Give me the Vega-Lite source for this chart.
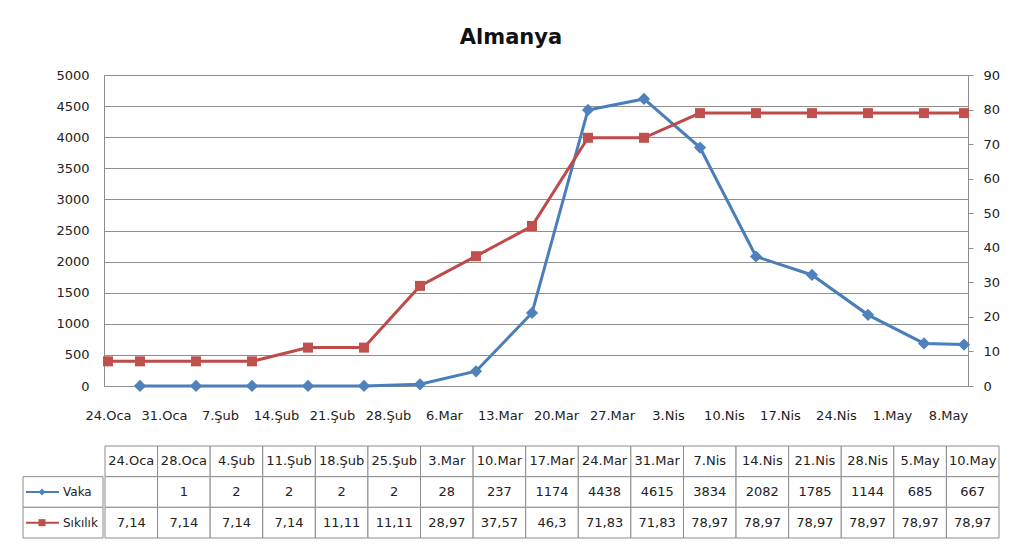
{
  "$schema": "https://vega.github.io/schema/vega-lite/v6.json",
  "padding": {"left": 22, "top": 27, "right": 5, "bottom": 5},
  "background": "white",
  "title": {"text": "Almanya", "font": "DejaVu Sans", "fontSize": 21, "fontWeight": "bold", "color": "#111111", "anchor": "middle", "offset": 21},
  "datasets": {
    "d": [
      {"date": "2020-01-24", "label": "24.Oca", "vaka": null, "siklik": 7.14},
      {"date": "2020-01-28", "label": "28.Oca", "vaka": 1, "siklik": 7.14},
      {"date": "2020-02-04", "label": "4.Şub", "vaka": 2, "siklik": 7.14},
      {"date": "2020-02-11", "label": "11.Şub", "vaka": 2, "siklik": 7.14},
      {"date": "2020-02-18", "label": "18.Şub", "vaka": 2, "siklik": 11.11},
      {"date": "2020-02-25", "label": "25.Şub", "vaka": 2, "siklik": 11.11},
      {"date": "2020-03-03", "label": "3.Mar", "vaka": 28, "siklik": 28.97},
      {"date": "2020-03-10", "label": "10.Mar", "vaka": 237, "siklik": 37.57},
      {"date": "2020-03-17", "label": "17.Mar", "vaka": 1174, "siklik": 46.3},
      {"date": "2020-03-24", "label": "24.Mar", "vaka": 4438, "siklik": 71.83},
      {"date": "2020-03-31", "label": "31.Mar", "vaka": 4615, "siklik": 71.83},
      {"date": "2020-04-07", "label": "7.Nis", "vaka": 3834, "siklik": 78.97},
      {"date": "2020-04-14", "label": "14.Nis", "vaka": 2082, "siklik": 78.97},
      {"date": "2020-04-21", "label": "21.Nis", "vaka": 1785, "siklik": 78.97},
      {"date": "2020-04-28", "label": "28.Nis", "vaka": 1144, "siklik": 78.97},
      {"date": "2020-05-05", "label": "5.May", "vaka": 685, "siklik": 78.97},
      {"date": "2020-05-10", "label": "10.May", "vaka": 667, "siklik": 78.97}
    ],
    "s": [
      {"key": "vaka", "name": "Vaka"},
      {"key": "siklik", "name": "Sıkılık"}
    ]
  },
  "vconcat": [
    {
      "spacing": 0,
      "hconcat": [
        {
          "width": 31,
          "height": 311,
          "data": {"values": []},
          "mark": "point"
        },
        {
          "width": 864,
          "height": 311,
          "data": {"name": "d"},
          "encoding": {
            "x": {
              "field": "date", "type": "temporal",
              "scale": {"type": "utc", "domain": [
                {"year": 2020, "month": 1, "date": 23, "hours": 12, "utc": true},
                {"year": 2020, "month": 5, "date": 10, "hours": 12, "utc": true}
              ]},
              "axis": {
                "title": null,
                "values": [
                  {"year": 2020, "month": 1, "date": 24, "utc": true},
                  {"year": 2020, "month": 1, "date": 31, "utc": true},
                  {"year": 2020, "month": 2, "date": 7, "utc": true},
                  {"year": 2020, "month": 2, "date": 14, "utc": true},
                  {"year": 2020, "month": 2, "date": 21, "utc": true},
                  {"year": 2020, "month": 2, "date": 28, "utc": true},
                  {"year": 2020, "month": 3, "date": 6, "utc": true},
                  {"year": 2020, "month": 3, "date": 13, "utc": true},
                  {"year": 2020, "month": 3, "date": 20, "utc": true},
                  {"year": 2020, "month": 3, "date": 27, "utc": true},
                  {"year": 2020, "month": 4, "date": 3, "utc": true},
                  {"year": 2020, "month": 4, "date": 10, "utc": true},
                  {"year": 2020, "month": 4, "date": 17, "utc": true},
                  {"year": 2020, "month": 4, "date": 24, "utc": true},
                  {"year": 2020, "month": 5, "date": 1, "utc": true},
                  {"year": 2020, "month": 5, "date": 8, "utc": true}
                ],
                "labelExpr": "utcdate(datum.value) + '.' + ['Oca','Şub','Mar','Nis','May'][utcmonth(datum.value)]",
                "grid": false, "ticks": false, "labelPadding": 23,
                "domainColor": "#8e8e8e", "labelFont": "DejaVu Sans", "labelFontSize": 13,
                "labelColor": "#222222", "labelOverlap": false, "labelFlush": false
              }
            }
          },
          "layer": [
            {
              "encoding": {
                "y": {
                  "field": "vaka", "type": "quantitative",
                  "scale": {"domain": [0, 5000]},
                  "axis": {
                    "orient": "left", "title": null, "format": "d",
                    "values": [0, 500, 1000, 1500, 2000, 2500, 3000, 3500, 4000, 4500, 5000],
                    "ticks": false, "labelPadding": 15, "minExtent": 50, "maxExtent": 50,
                    "grid": true, "gridColor": "#8e8e8e", "domainColor": "#8e8e8e",
                    "labelFont": "DejaVu Sans", "labelFontSize": 13, "labelColor": "#222222"
                  }
                }
              },
              "layer": [
                {"mark": {"type": "line", "color": "#4A7EBB", "strokeWidth": 3}},
                {"mark": {"type": "point", "shape": "diamond", "filled": true, "size": 150, "color": "#4F81BD", "opacity": 1}}
              ]
            },
            {
              "encoding": {
                "y": {
                  "field": "siklik", "type": "quantitative",
                  "scale": {"domain": [0, 90]},
                  "axis": {
                    "orient": "right", "title": null, "format": "d",
                    "values": [0, 10, 20, 30, 40, 50, 60, 70, 80, 90],
                    "ticks": true, "tickSize": 5, "tickColor": "#8e8e8e", "labelPadding": 10,
                    "grid": false, "domainColor": "#8e8e8e",
                    "labelFont": "DejaVu Sans", "labelFontSize": 13, "labelColor": "#222222"
                  }
                }
              },
              "layer": [
                {"mark": {"type": "line", "color": "#BE4B48", "strokeWidth": 3}},
                {"mark": {"type": "point", "shape": "square", "filled": true, "size": 100, "color": "#C0504D", "opacity": 1}}
              ]
            }
          ],
          "resolve": {"scale": {"y": "independent"}}
        }
      ]
    },
    {
      "spacing": 0,
      "hconcat": [
        {
          "width": 80,
          "height": 92,
          "data": {"name": "s"},
          "encoding": {
            "y": {"field": "key", "type": "nominal", "scale": {"domain": ["label", "vaka", "siklik"], "paddingInner": 0, "paddingOuter": 0}, "axis": null},
            "x": {"datum": "c", "type": "nominal", "scale": {"domain": ["c"], "paddingInner": 0, "paddingOuter": 0}, "axis": null}
          },
          "layer": [
            {"mark": {"type": "rect", "fill": "white", "stroke": "#8c8c8c", "strokeWidth": 1}},
            {
              "mark": {"type": "rule", "strokeWidth": 2, "xOffset": -37, "x2Offset": -4},
              "encoding": {
                "x2": {"datum": "c"},
                "color": {"field": "key", "type": "nominal", "scale": {"domain": ["vaka", "siklik"], "range": ["#4A7EBB", "#BE4B48"]}, "legend": null}
              }
            },
            {
              "mark": {"type": "point", "filled": true, "size": 50, "opacity": 1, "xOffset": -21},
              "encoding": {
                "color": {"field": "key", "type": "nominal", "scale": {"domain": ["vaka", "siklik"], "range": ["#4F81BD", "#C0504D"]}, "legend": null},
                "shape": {"field": "key", "type": "nominal", "scale": {"domain": ["vaka", "siklik"], "range": ["diamond", "square"]}, "legend": null}
              }
            },
            {
              "mark": {"type": "text", "align": "left", "baseline": "middle", "font": "DejaVu Sans", "fontSize": 12, "color": "#222222"},
              "encoding": {"text": {"field": "name"}}
            }
          ],
          "resolve": {"scale": {"color": "independent"}}
        },
        {
          "width": 894,
          "height": 92,
          "data": {"name": "d"},
          "encoding": {
            "x": {"field": "label", "type": "nominal", "sort": null, "scale": {"paddingInner": 0, "paddingOuter": 0}, "axis": null}
          },
          "layer": [
            {
              "transform": [{"fold": ["label", "vaka", "siklik"], "as": ["row", "v"]}],
              "mark": {"type": "rect", "fill": "white", "stroke": "#8c8c8c", "strokeWidth": 1},
              "encoding": {"y": {"field": "row", "type": "nominal", "scale": {"domain": ["label", "vaka", "siklik"], "paddingInner": 0, "paddingOuter": 0}, "axis": null}}
            },
            {
              "mark": {"type": "text", "baseline": "middle", "font": "DejaVu Sans", "fontSize": 13, "color": "#222222"},
              "encoding": {"y": {"datum": "label", "type": "nominal"}, "text": {"field": "label"}}
            },
            {
              "transform": [{"filter": "datum.vaka != null"}],
              "mark": {"type": "text", "baseline": "middle", "font": "DejaVu Sans", "fontSize": 13, "color": "#222222"},
              "encoding": {"y": {"datum": "vaka", "type": "nominal"}, "text": {"field": "vaka", "type": "quantitative", "format": "d"}}
            },
            {
              "mark": {"type": "text", "baseline": "middle", "font": "DejaVu Sans", "fontSize": 13, "color": "#222222"},
              "encoding": {"y": {"datum": "siklik", "type": "nominal"}, "text": {"field": "siklik", "type": "quantitative", "format": ".2~f"}}
            }
          ]
        }
      ]
    }
  ],
  "spacing": 23,
  "config": {
    "view": {"stroke": null},
    "font": "DejaVu Sans",
    "locale": {
      "number": {"decimal": ",", "thousands": ".", "grouping": [3], "currency": ["", " TL"]}
    }
  }
}
